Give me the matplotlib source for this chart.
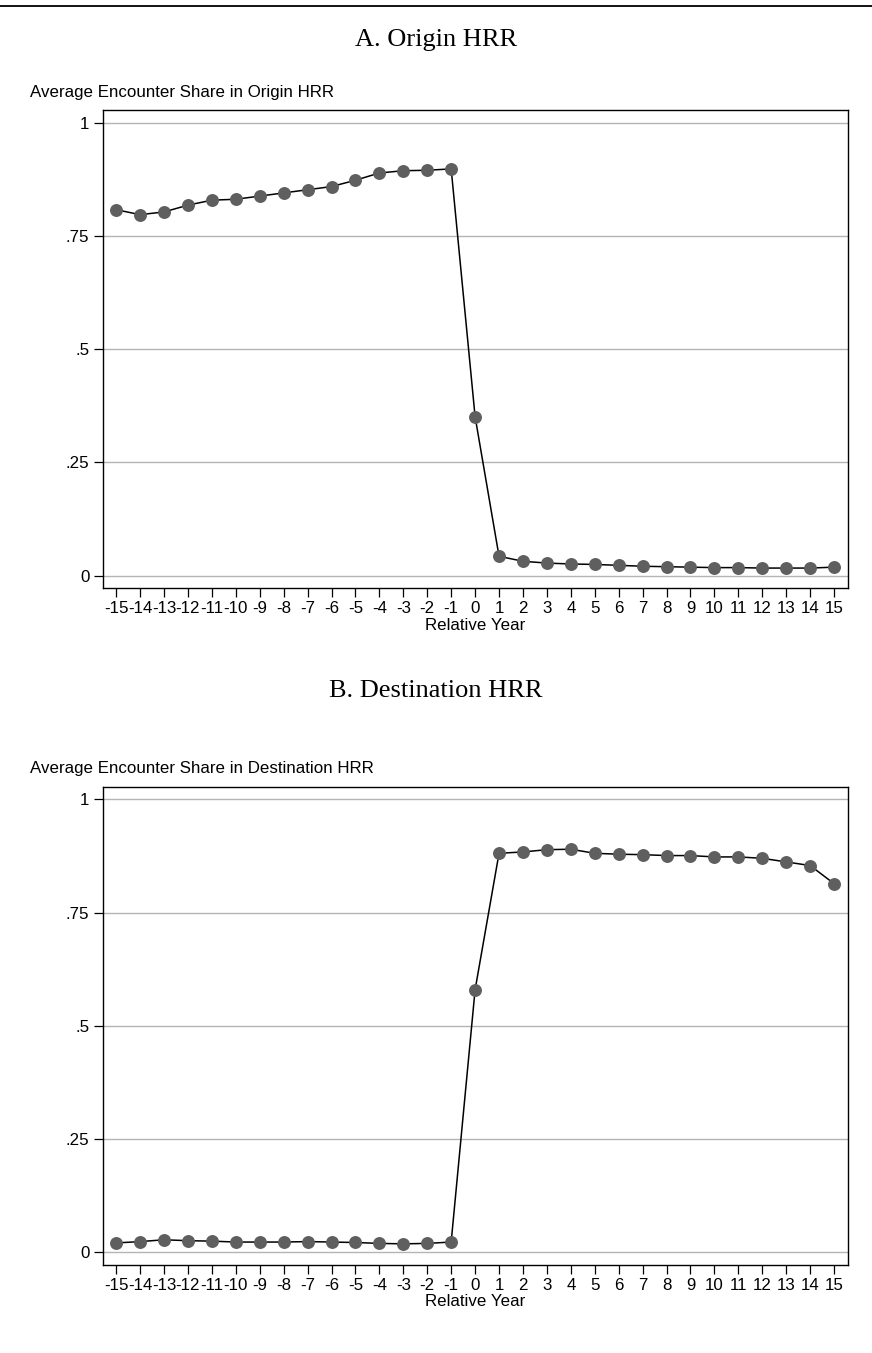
import numpy as np
import matplotlib
matplotlib.use("Agg")
import matplotlib.pyplot as plt
from matplotlib import font_manager
from matplotlib.lines import Line2D

# relative years and average encounter shares
years = list(range(-15, 16))
origin_share = [0.808, 0.797, 0.803, 0.818, 0.829, 0.831, 0.838, 0.845,
                0.852, 0.859, 0.873, 0.889, 0.894, 0.895, 0.898,
                0.351,
                0.043, 0.032, 0.028, 0.026, 0.025, 0.023, 0.021, 0.020,
                0.019, 0.018, 0.018, 0.017, 0.017, 0.017, 0.019]
dest_share = [0.021, 0.024, 0.028, 0.026, 0.025, 0.023, 0.023, 0.023,
              0.024, 0.023, 0.022, 0.020, 0.019, 0.020, 0.023,
              0.580,
              0.881, 0.884, 0.889, 0.890, 0.881, 0.879, 0.878, 0.876,
              0.876, 0.873, 0.873, 0.870, 0.862, 0.854, 0.814]
ytick_vals = [0, 0.25, 0.5, 0.75, 1]
ytick_labels = ["0", ".25", ".5", ".75", "1"]

panel_titles = ["A. Origin HRR", "B. Destination HRR"]
panel_ylabels = ["Average Encounter Share in Origin HRR",
                 "Average Encounter Share in Destination HRR"]

names = {f.name for f in font_manager.fontManager.ttflist}
if "Liberation Sans Narrow" in names:
    sans, fs = "Liberation Sans Narrow", 13.4
else:
    sans, fs = "Liberation Sans", 12.2
serif = "Liberation Serif"

W, H = 872, 1353
fig = plt.figure(figsize=(W / 100, H / 100), dpi=100)

# rule across the top
fig.add_artist(Line2D([0, 1], [1 - 6 / H, 1 - 6 / H], color="black",
                      lw=1.3, transform=fig.transFigure))

ax_left, ax_width = 102.5 / W, 745.2 / W
panels = [
    dict(top=110, vals=origin_share, title_y=46, sub_y=97),
    dict(top=786.7, vals=dest_share, title_y=697, sub_y=773),
]

for i, p in enumerate(panels):
    bottom = 1 - (p["top"] + 478) / H
    ax = fig.add_axes([ax_left, bottom, ax_width, 478 / H])
    ax.plot(years, p["vals"], color="black", lw=1.1, zorder=3,
            marker="o", markersize=8.3, markerfacecolor="#5f5f5f",
            markeredgecolor="#5f5f5f")
    ax.set_xlim(-15.57, 15.57)
    ax.set_ylim(-0.027, 1.028)
    ax.set_yticks(ytick_vals)
    ax.set_yticklabels(ytick_labels, family=sans, fontsize=fs)
    ax.set_xticks(years)
    ax.set_xticklabels([str(y) for y in years], family=sans, fontsize=fs)
    ax.grid(axis="y", color="#b4b4b4", lw=1.0)
    ax.set_axisbelow(True)
    ax.tick_params(direction="out", length=6.5, width=0.9, pad=3)
    for s in ax.spines.values():
        s.set_linewidth(1.0)
    ax.set_xlabel("Relative Year", family=sans, fontsize=fs, labelpad=1)

    fig.text(0.5, 1 - p["title_y"] / H, panel_titles[i], family=serif,
             fontsize=19, ha="center", va="baseline")
    fig.text(30 / W, 1 - p["sub_y"] / H, panel_ylabels[i], family=sans,
             fontsize=fs, ha="left", va="baseline")

fig.savefig("out.png", dpi=100)
